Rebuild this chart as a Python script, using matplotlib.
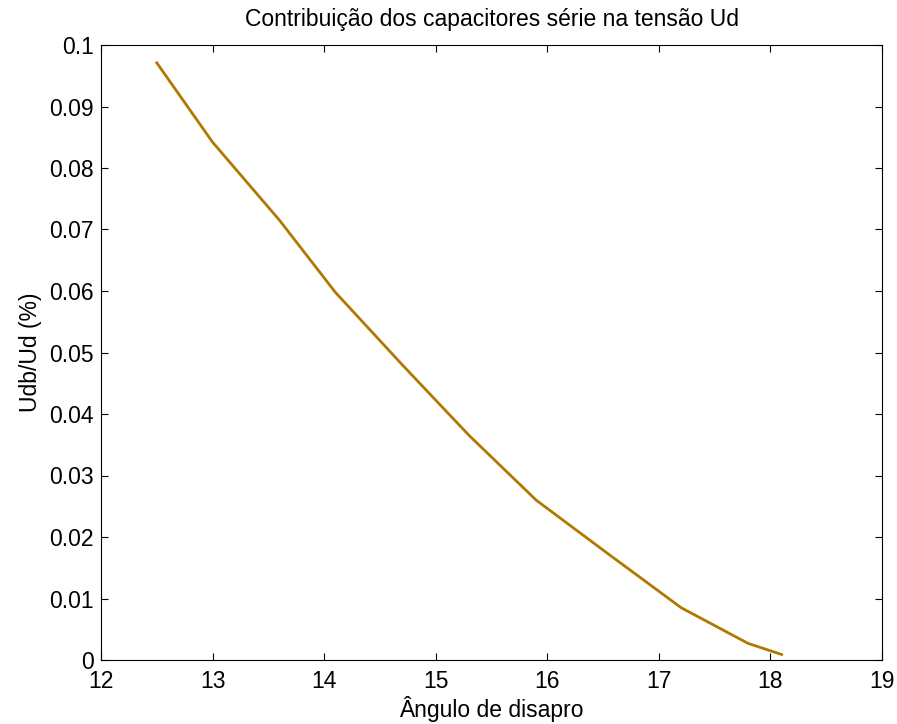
import matplotlib
matplotlib.use("Agg")
import matplotlib.pyplot as plt

angle = [12.5, 13.0, 13.6, 14.1, 14.7, 15.3, 15.9, 16.55, 17.2, 17.8, 18.1]
ratio = [0.0971, 0.0842, 0.0715, 0.0598, 0.0480, 0.0365, 0.0260, 0.0172, 0.0085, 0.0027, 0.0009]
xticks = [12, 13, 14, 15, 16, 17, 18, 19]
yticks = [0, 0.01, 0.02, 0.03, 0.04, 0.05, 0.06, 0.07, 0.08, 0.09, 0.1]
ytick_labels = ["0", "0.01", "0.02", "0.03", "0.04", "0.05", "0.06", "0.07", "0.08", "0.09", "0.1"]

plt.rcParams['font.family'] = ['Liberation Sans', 'DejaVu Sans']
W, H = 897, 724
fig = plt.figure(figsize=(W/100, H/100), dpi=100)
ax = fig.add_axes([101/W, 1-660/H, (882-101)/W, (660-45)/H])
ax.plot(angle, ratio, color='#b07800', lw=2.0)
ax.set_xlim(12, 19)
ax.set_ylim(0, 0.1)
ax.set_xticks(xticks)
ax.set_xticklabels([str(t) for t in xticks])
ax.set_yticks(yticks)
ax.set_yticklabels(ytick_labels)
ax.tick_params(direction='in', top=True, right=True, length=5, width=0.8, labelsize=16.5)
ax.tick_params(axis='y', pad=5)
ax.tick_params(axis='x', pad=7)
for s in ax.spines.values():
    s.set_linewidth(0.8)
ax.set_title("Contribuição dos capacitores série na tensão Ud", fontsize=16.5, pad=14)
ax.set_xlabel("Ângulo de disapro", fontsize=16.5, labelpad=2)
ax.set_ylabel("Udb/Ud (%)", fontsize=16.5, labelpad=5)
fig.savefig("out.png", dpi=100)
